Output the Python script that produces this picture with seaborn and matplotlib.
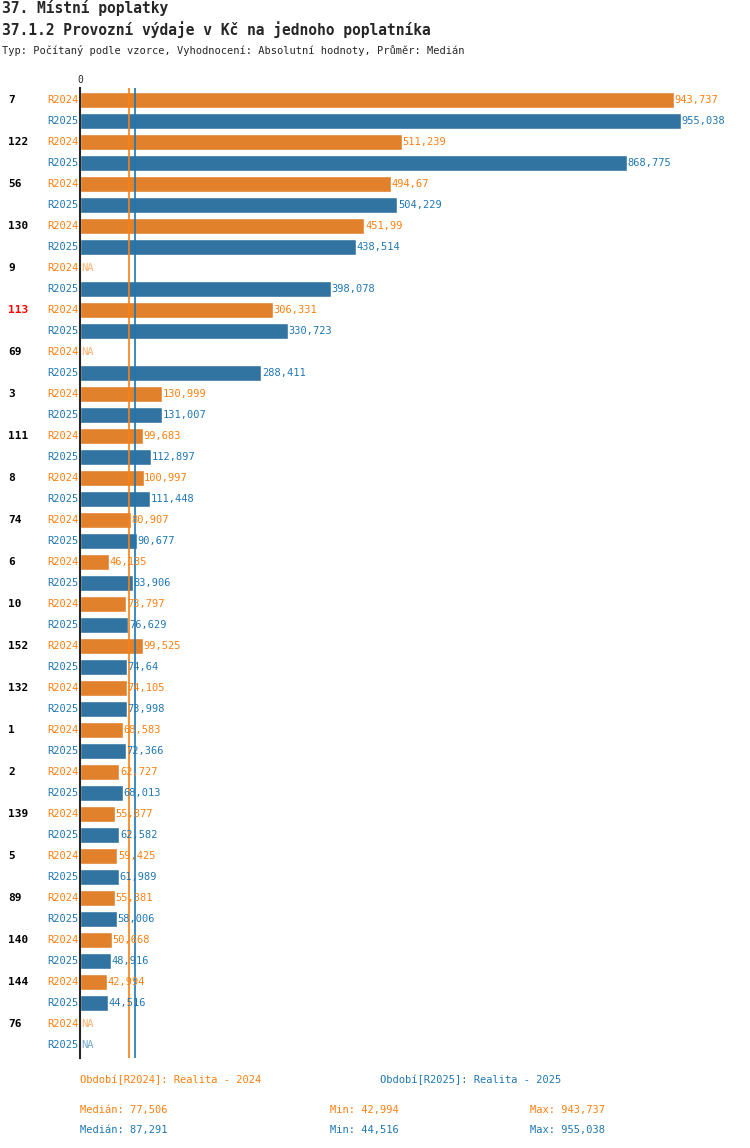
import numpy as np
import pandas as pd
import matplotlib.pyplot as plt
import seaborn as sns

groups = ["7", "122", "56", "130", "9", "113", "69", "3", "111", "8", "74", "6", "10",
          "152", "132", "1", "2", "139", "5", "89", "140", "144", "76"]
r2024 = [943.737, 511.239, 494.67, 451.99, np.nan, 306.331, np.nan, 130.999, 99.683,
         100.997, 80.907, 46.135, 73.797, 99.525, 74.105, 68.583, 62.727, 55.877,
         59.425, 55.381, 50.668, 42.994, np.nan]
r2025 = [955.038, 868.775, 504.229, 438.514, 398.078, 330.723, 288.411, 131.007,
         112.897, 111.448, 90.677, 83.906, 76.629, 74.64, 73.998, 72.366, 68.013,
         62.582, 61.989, 58.006, 48.916, 44.516, np.nan]
highlight = "113"
med24, med25 = 77.506, 87.291
min24, min25 = 42.994, 44.516
max24, max25 = 943.737, 955.038

ORANGE = "#ff7f0e"
BLUE = "#1f77b4"

rows = []
for g, a, b in zip(groups, r2024, r2025):
    rows.append({"row": g + "|R2024", "value": a, "period": "R2024"})
    rows.append({"row": g + "|R2025", "value": b, "period": "R2025"})
df = pd.DataFrame(rows)

sns.set_style("white")
plt.rcParams["font.family"] = ["DejaVu Sans Mono", "DejaVu Sans"]

W, H = 750, 1148
fig = plt.figure(figsize=(W / 100, H / 100), dpi=100)
ax_top, ax_bot = 88, 1058
ax = fig.add_axes([80 / W, 1 - ax_bot / H, (740 - 80) / W, (ax_bot - ax_top) / H])

sns.barplot(data=df.fillna(0), y="row", x="value", hue="period", order=list(df["row"]),
            palette={"R2024": ORANGE, "R2025": BLUE}, dodge=False, width=0.76,
            legend=False, ax=ax, orient="h")

xmax = 955.038 * 660 / 601
ax.set_xlim(0, xmax)
ax.set_ylim((ax_bot - 100) / 21, -(100 - ax_top) / 21)
for s in ["top", "right", "bottom"]:
    ax.spines[s].set_visible(False)
ax.spines["left"].set_linewidth(1.5)
ax.set_yticks([]); ax.set_xticks([0]); ax.set_xticklabels(["0"])
ax.xaxis.tick_top(); ax.tick_params(axis="x", length=0, labelsize=7, pad=2)
ax.set_xlabel(""); ax.set_ylabel("")
ax.axvline(med24, color=ORANGE, lw=1.2)
ax.axvline(med25, color=BLUE, lw=1.2)

def fmt(v):
    return ("%.3f" % v).rstrip("0").rstrip(".").replace(".", ",")

for i, row in df.iterrows():
    col = ORANGE if row["period"] == "R2024" else BLUE
    ax.text(-33 * xmax / 660, i, row["period"], color=col, fontsize=7.5,
            ha="left", va="center", clip_on=False)
    v = row["value"]
    txt = "NA" if np.isnan(v) else fmt(v)
    x = 2 if np.isnan(v) else v + 1
    ax.text(x, i, txt, color=col, fontsize=7.5, ha="left", va="center", alpha=0.6 if np.isnan(v) else 1)
    if row["period"] == "R2024":
        g = row["row"].split("|")[0]
        ax.text(-72 * xmax / 660, i, g, color="red" if g == highlight else "black",
                fontsize=8, fontweight="bold", ha="left", va="center", clip_on=False)

def ftext(x, y, s, **kw):
    fig.text(x / W, 1 - y / H, s, va="center", ha="left", **kw)

ftext(2, 8, "37. Místní poplatky", fontsize=10.5, fontweight="bold")
ftext(2, 30, "37.1.2 Provozní výdaje v Kč na jednoho poplatníka", fontsize=10.5, fontweight="bold")
ftext(2, 50, "Typ: Počítaný podle vzorce, Vyhodnocení: Absolutní hodnoty, Průměr: Medián", fontsize=7.5)
ftext(80, 1080, "Období[R2024]: Realita - 2024", fontsize=7.5, color=ORANGE)
ftext(380, 1080, "Období[R2025]: Realita - 2025", fontsize=7.5, color=BLUE)
ftext(80, 1110, "Medián: " + fmt(med24), fontsize=7.5, color=ORANGE)
ftext(330, 1110, "Min: " + fmt(min24), fontsize=7.5, color=ORANGE)
ftext(530, 1110, "Max: " + fmt(max24), fontsize=7.5, color=ORANGE)
ftext(80, 1130, "Medián: " + fmt(med25), fontsize=7.5, color=BLUE)
ftext(330, 1130, "Min: " + fmt(min25), fontsize=7.5, color=BLUE)
ftext(530, 1130, "Max: " + fmt(max25), fontsize=7.5, color=BLUE)

fig.savefig("out.png", dpi=100)
